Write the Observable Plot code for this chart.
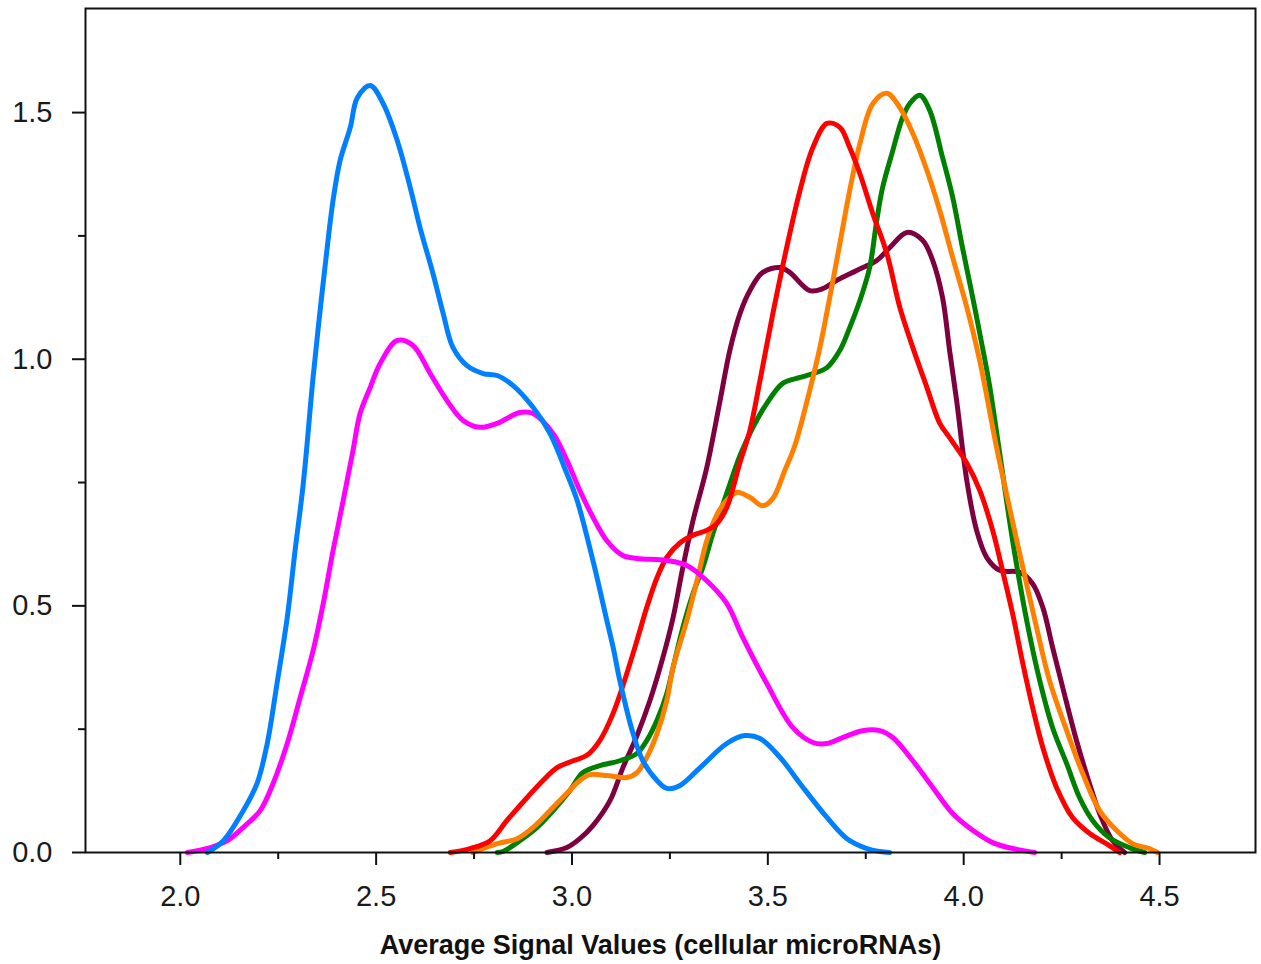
<!DOCTYPE html>
<html>
<head>
<meta charset="utf-8">
<script src="https://cdn.jsdelivr.net/npm/d3@7"></script>
<script src="https://cdn.jsdelivr.net/npm/@observablehq/plot@0.6"></script>
<style>
  html, body { margin: 0; padding: 0; background: #fff; }
  #chart { width: 1261px; height: 964px; }
</style>
</head>
<body>
<div id="chart"></div>
<script>
// ---- Data ----
const xLabel = "Average Signal Values (cellular microRNAs)";
const xTicks = [2.0, 2.5, 3.0, 3.5, 4.0, 4.5];
const xMinorTicks = [2.25, 2.75, 3.25, 3.75, 4.25];
const yTicks = [0.0, 0.5, 1.0, 1.5];
const yMinorTicks = [0.25, 0.75, 1.25];

const blueX = [2.069,2.110,2.161,2.196,2.222,2.247,2.273,2.293,2.314,2.339,2.357,2.375,2.390,2.408,2.434,2.452,2.485,2.518,2.554,2.587,2.612,2.645,2.671,2.696,2.732,2.773,2.809,2.849,2.901,2.944,2.987,3.013,3.054,3.089,3.105,3.122,3.156,3.181,3.217,3.242,3.276,3.327,3.395,3.441,3.480,3.531,3.582,3.651,3.702,3.753,3.786,3.811];
const blueY = [0,0.024,0.085,0.140,0.221,0.343,0.476,0.612,0.748,0.963,1.099,1.226,1.322,1.403,1.470,1.530,1.555,1.518,1.443,1.348,1.267,1.174,1.093,1.024,0.987,0.971,0.967,0.947,0.902,0.849,0.768,0.714,0.590,0.470,0.416,0.349,0.241,0.186,0.146,0.130,0.136,0.172,0.221,0.237,0.231,0.193,0.140,0.071,0.028,0.008,0.002,0];

const magentaX = [2.018,2.077,2.120,2.161,2.204,2.237,2.273,2.306,2.339,2.365,2.390,2.416,2.441,2.459,2.485,2.510,2.554,2.594,2.638,2.681,2.722,2.765,2.809,2.867,2.901,2.952,2.987,3.020,3.054,3.089,3.130,3.166,3.242,3.293,3.344,3.395,3.436,3.497,3.564,3.615,3.651,3.691,3.742,3.786,3.819,3.870,3.921,3.972,4.023,4.074,4.125,4.181];
const magentaY = [0,0.010,0.024,0.051,0.085,0.140,0.221,0.314,0.409,0.505,0.612,0.714,0.815,0.890,0.943,0.991,1.038,1.028,0.971,0.916,0.876,0.862,0.870,0.892,0.890,0.849,0.795,0.734,0.679,0.632,0.602,0.596,0.592,0.582,0.551,0.505,0.436,0.343,0.253,0.223,0.221,0.233,0.247,0.247,0.233,0.186,0.132,0.079,0.045,0.020,0.008,0];

const redX = [2.689,2.740,2.791,2.834,2.885,2.926,2.962,3.003,3.038,3.071,3.105,3.140,3.166,3.191,3.217,3.242,3.276,3.309,3.344,3.370,3.395,3.429,3.454,3.480,3.513,3.548,3.582,3.615,3.651,3.684,3.709,3.735,3.768,3.804,3.837,3.870,3.906,3.939,3.964,4.008,4.041,4.074,4.099,4.125,4.151,4.176,4.202,4.237,4.278,4.321,4.372,4.398];
const redY = [0,0.008,0.024,0.065,0.111,0.146,0.172,0.186,0.197,0.227,0.282,0.363,0.430,0.497,0.557,0.598,0.628,0.643,0.653,0.667,0.699,0.791,0.855,0.957,1.093,1.226,1.342,1.429,1.478,1.470,1.429,1.376,1.295,1.214,1.105,1.024,0.943,0.870,0.841,0.789,0.734,0.653,0.572,0.484,0.383,0.294,0.213,0.132,0.071,0.039,0.014,0];

const greenX = [2.809,2.824,2.867,2.911,2.952,2.995,3.028,3.071,3.122,3.166,3.191,3.217,3.242,3.258,3.283,3.309,3.334,3.360,3.395,3.429,3.462,3.497,3.538,3.582,3.615,3.651,3.684,3.709,3.735,3.760,3.778,3.793,3.819,3.844,3.862,3.888,3.913,3.946,3.972,3.997,4.023,4.048,4.066,4.092,4.125,4.161,4.194,4.227,4.263,4.296,4.329,4.372,4.423,4.462];
const greenY = [0,0.002,0.024,0.051,0.085,0.126,0.162,0.176,0.186,0.201,0.227,0.268,0.322,0.375,0.456,0.525,0.578,0.647,0.728,0.805,0.862,0.910,0.951,0.963,0.971,0.983,1.018,1.064,1.119,1.186,1.281,1.348,1.423,1.490,1.518,1.535,1.505,1.409,1.328,1.226,1.125,1.024,0.947,0.809,0.632,0.470,0.349,0.253,0.180,0.111,0.065,0.030,0.010,0];

const orangeX = [2.747,2.809,2.860,2.901,2.944,2.987,3.020,3.046,3.089,3.140,3.166,3.191,3.217,3.242,3.258,3.293,3.319,3.344,3.370,3.395,3.421,3.454,3.487,3.513,3.543,3.569,3.607,3.633,3.658,3.684,3.709,3.735,3.768,3.804,3.837,3.870,3.906,3.939,3.972,4.008,4.041,4.084,4.117,4.151,4.186,4.219,4.263,4.304,4.347,4.390,4.431,4.474,4.495];
const orangeY = [0,0.018,0.028,0.051,0.085,0.120,0.146,0.158,0.156,0.152,0.162,0.193,0.241,0.308,0.375,0.470,0.551,0.632,0.685,0.714,0.730,0.720,0.703,0.718,0.774,0.825,0.937,1.024,1.125,1.235,1.342,1.437,1.518,1.539,1.510,1.458,1.383,1.301,1.206,1.105,0.997,0.821,0.699,0.578,0.456,0.349,0.247,0.160,0.085,0.045,0.018,0.008,0];

const purpleX = [2.936,2.987,3.020,3.054,3.097,3.130,3.166,3.199,3.232,3.258,3.283,3.309,3.344,3.378,3.403,3.429,3.454,3.487,3.531,3.556,3.607,3.640,3.676,3.727,3.778,3.811,3.855,3.895,3.921,3.946,3.964,3.982,4.008,4.033,4.059,4.092,4.143,4.176,4.202,4.227,4.253,4.288,4.321,4.347,4.380,4.411];
const purpleY = [0,0.010,0.028,0.055,0.105,0.172,0.237,0.308,0.395,0.476,0.578,0.673,0.780,0.916,1.018,1.093,1.139,1.176,1.186,1.176,1.139,1.143,1.160,1.180,1.200,1.226,1.257,1.241,1.200,1.125,1.018,0.916,0.754,0.653,0.598,0.572,0.568,0.545,0.497,0.416,0.334,0.227,0.140,0.079,0.024,0];

// drawing order: first is drawn underneath
const seriesNames = ["Series P", "Series G", "Series O", "Series R", "Series M", "Series B"];
const seriesColors = ["#7F003F", "#008000", "#FF8000", "#FF0000", "#FF00FF", "#0080FF"];
const seriesXs = [purpleX, greenX, orangeX, redX, magentaX, blueX];
const seriesYs = [purpleY, greenY, orangeY, redY, magentaY, blueY];

// ---- Build a tidy table ----
const rows = [];
seriesNames.forEach((name, i) => {
  seriesXs[i].forEach((x, j) => rows.push({series: name, x, y: seriesYs[i][j]}));
});

const font = "'Liberation Sans', Arial, sans-serif";

const chart = Plot.plot({
  width: 1261,
  height: 964,
  marginLeft: 85,
  marginRight: 6,
  marginTop: 8,
  marginBottom: 112,
  style: {fontFamily: font, background: "#fff", color: "#1a1a1a"},
  x: {domain: [1.758, 4.745]},
  y: {domain: [0, 1.711]},
  color: {type: "ordinal", domain: seriesNames, range: seriesColors},
  marks: [
    Plot.line(rows, {x: "x", y: "y", z: "series", stroke: "series", strokeWidth: 5, strokeLinejoin: "round", curve: "catmull-rom"}),
    Plot.frame({stroke: "#111", strokeWidth: 2}),
    Plot.axisX({ticks: xTicks, tickSize: 13, tickPadding: 20, tickFormat: d3.format(".1f"), fontSize: 29, label: null, stroke: "#111", strokeWidth: 2, fill: "#1a1a1a"}),
    Plot.axisX({ticks: xMinorTicks, tickSize: 7, tickFormat: () => "", label: null, stroke: "#111", strokeWidth: 2}),
    Plot.axisY({ticks: yTicks, tickSize: 13, tickPadding: 20, tickFormat: d3.format(".1f"), fontSize: 29, label: null, stroke: "#111", strokeWidth: 2, fill: "#1a1a1a"}),
    Plot.axisY({ticks: yMinorTicks, tickSize: 7, tickFormat: () => "", label: null, stroke: "#111", strokeWidth: 2}),
    Plot.text([xLabel], {frameAnchor: "bottom", dx: -10, dy: 101, lineAnchor: "bottom", fontSize: 27, fontWeight: "bold", fill: "#111", fontFamily: font})
  ]
});

document.getElementById("chart").appendChild(chart);
</script>
</body>
</html>
